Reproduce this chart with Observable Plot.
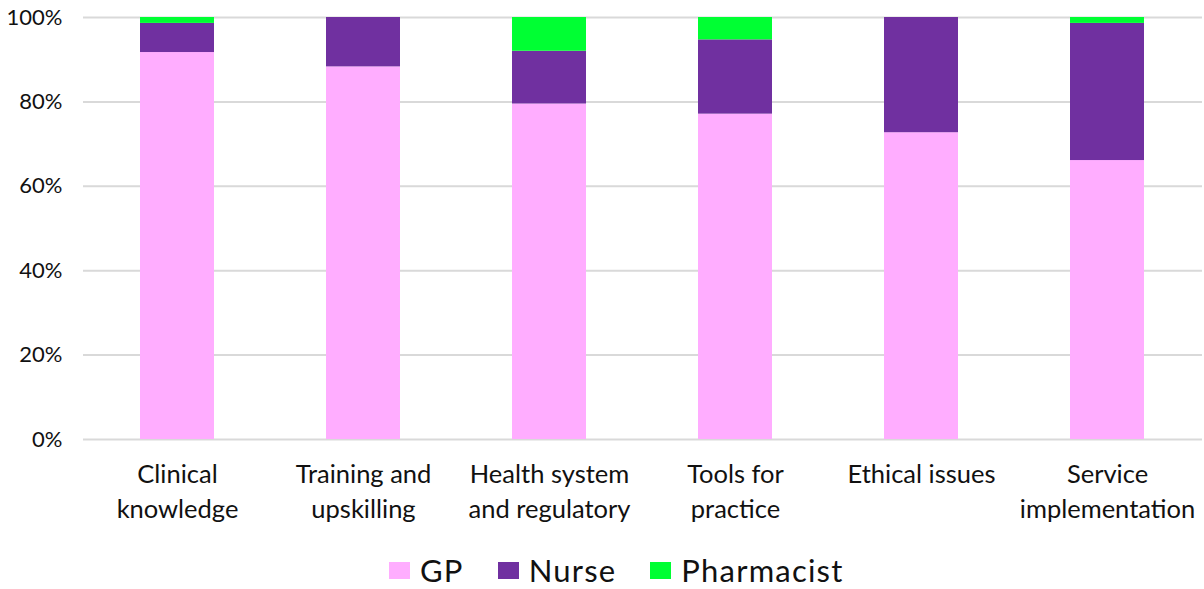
<!DOCTYPE html>
<html>
<head>
<meta charset="utf-8">
<script src="https://cdn.jsdelivr.net/npm/d3@7"></script>
<script src="https://cdn.jsdelivr.net/npm/@observablehq/plot@0.6"></script>
<style>
  html, body { margin: 0; padding: 0; background: #fff; }
  body { width: 1204px; font-family: Lato, "Open Sans", sans-serif; }
  #chart svg { display: block; }
  #legend { display: flex; align-items: center; padding-left: 389px; margin-top: 28px; height: 37px; font-size: 31px; line-height: 37px; letter-spacing: 1.2px; color: #111; }
  .item { display: flex; align-items: center; margin-right: 34px; }
  .sw { width: 21px; height: 17px; margin-right: 10px; }
</style>
</head>
<body>
<div id="chart"></div>
<div id="legend"></div>
<script>
const categories = ["Clinical knowledge", "Training and upskilling", "Health system and regulatory", "Tools for practice", "Ethical issues", "Service implementation"];
const tickLabels = ["Clinical\nknowledge", "Training and\nupskilling", "Health system\nand regulatory", "Tools for\npractice", "Ethical issues", "Service\nimplementation"];
const series = ["GP", "Nurse", "Pharmacist"];
const colors = ["#ffadff", "#7030a0", "#00ff33"];
const gp = [91.7, 88.3, 79.5, 77.1, 72.7, 66.1];
const nurse = [6.9, 11.7, 12.5, 17.6, 27.3, 32.5];
const pharmacist = [1.4, 0, 8.0, 5.3, 0, 1.4];
const yTicks = [0, 20, 40, 60, 80, 100];

const valuesBySeries = [gp, nurse, pharmacist];
const data = [];
categories.forEach((c, i) => {
  series.forEach((s, j) => data.push({category: c, series: s, value: valuesBySeries[j][i]}));
});
const labelOf = new Map(categories.map((c, i) => [c, tickLabels[i]]));

const chart = Plot.plot({
  width: 1204,
  height: 524,
  marginLeft: 83,
  marginRight: 2,
  marginTop: 17,
  marginBottom: 85,
  style: {fontFamily: "Lato, 'Open Sans', sans-serif", fontSize: "22px", color: "#111", background: "#fff"},
  x: {domain: categories, paddingInner: 0.6, paddingOuter: 0.3, label: null},
  y: {domain: [0, 100], label: null},
  color: {domain: series, range: colors},
  marks: [
    Plot.ruleY(yTicks, {stroke: "#d9d9d9", strokeWidth: 2}),
    Plot.barY(data, {x: "category", y: "value", fill: "series"}),
    Plot.axisY({ticks: yTicks, tickFormat: d => d + "%", tickSize: 0, tickPadding: 21, fontSize: 22, label: null}),
    Plot.axisX({tickFormat: d => labelOf.get(d), tickSize: 0, tickPadding: 18, fontSize: 25.5, lineHeight: 1.38, label: null})
  ]
});
document.getElementById("chart").appendChild(chart);

const legend = document.getElementById("legend");
series.forEach((s, i) => {
  const item = document.createElement("div");
  item.className = "item";
  const sw = document.createElement("div");
  sw.className = "sw";
  sw.style.background = colors[i];
  const t = document.createElement("span");
  t.textContent = s;
  item.appendChild(sw);
  item.appendChild(t);
  legend.appendChild(item);
});
</script>
</body>
</html>
